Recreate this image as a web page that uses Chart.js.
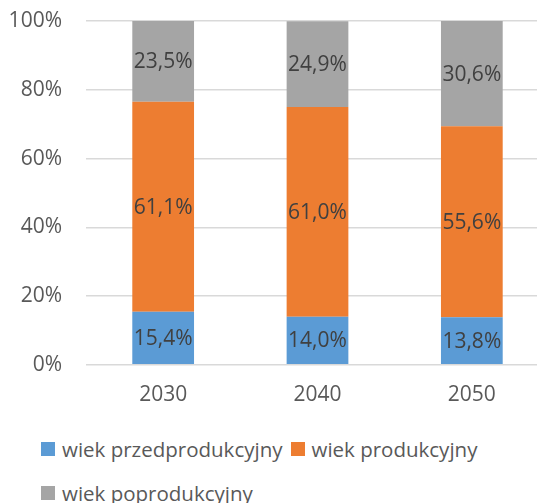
<!DOCTYPE html>
<html>
<head>
<meta charset="utf-8">
<script src="https://cdn.jsdelivr.net/npm/chart.js@4/dist/chart.umd.min.js"></script>
<style>
  html, body { margin: 0; padding: 0; background: #fff; overflow: hidden; }
  #wrap { position: relative; width: 549px; height: 503px; }
  #chart { position: absolute; left: 0; top: 0; }
  #legend {
    position: absolute; left: 41px; top: 427px; width: 480px;
    display: flex; flex-wrap: wrap;
    font-family: "Open Sans", sans-serif; font-size: 20.5px; color: #595959;
  }
  .item { display: flex; align-items: center; height: 44px; margin-right: 8px; white-space: nowrap; }
  .box { width: 14px; height: 14px; margin-right: 7px; }
</style>
</head>
<body>
<div id="wrap">
  <canvas id="chart" width="549" height="418"></canvas>
  <div id="legend"></div>
</div>
<script>
const lata = ["2030", "2040", "2050"];

const przedprodukcyjny = [15.4, 14.0, 13.8];
const produkcyjny = [61.1, 61.0, 55.6];
const poprodukcyjny = [23.5, 24.9, 30.6];

const yTicks = [0, 20, 40, 60, 80, 100];

const serie = [
  { label: "wiek przedprodukcyjny", data: przedprodukcyjny, color: "#5B9BD5" },
  { label: "wiek produkcyjny", data: produkcyjny, color: "#ED7D31" },
  { label: "wiek poprodukcyjny", data: poprodukcyjny, color: "#A5A5A5" }
];

const font = "'Open Sans', sans-serif";

// etykiety wartości na środku każdego segmentu
const etykiety = {
  id: 'etykiety',
  afterDatasetsDraw(chart) {
    const ctx = chart.ctx;
    ctx.save();
    ctx.font = "21px " + font;
    ctx.fillStyle = "#404040";
    ctx.textAlign = "center";
    ctx.textBaseline = "middle";
    chart.data.datasets.forEach((ds, i) => {
      chart.getDatasetMeta(i).data.forEach((bar, j) => {
        const txt = ds.data[j].toFixed(1).replace('.', ',') + '%';
        ctx.fillText(txt, bar.x, (bar.y + bar.base) / 2 + 1);
      });
    });
    ctx.restore();
  }
};

new Chart(document.getElementById('chart'), {
  type: 'bar',
  data: {
    labels: lata,
    datasets: serie.map(s => ({
      label: s.label,
      data: s.data,
      backgroundColor: s.color,
      barPercentage: 0.4,
      categoryPercentage: 1
    }))
  },
  options: {
    responsive: false,
    animation: false,
    layout: { padding: { top: 21, left: 0, right: 0, bottom: 0 } },
    plugins: { legend: { display: false }, tooltip: { enabled: false } },
    scales: {
      x: {
        stacked: true,
        grid: { display: false },
        border: { display: false },
        ticks: { color: "#595959", font: { family: font, size: 21 }, padding: 10 }
      },
      y: {
        stacked: true,
        min: 0,
        max: 100,
        afterFit(scale) {
          scale.width = 86;
          scale.paddingTop = 0;
          scale.paddingBottom = 0;
        },
        afterBuildTicks(scale) { scale.ticks = yTicks.map(v => ({ value: v })); },
        grid: { color: "#D9D9D9", lineWidth: 1.5, drawTicks: false },
        border: { display: false },
        ticks: {
          color: "#595959",
          font: { family: font, size: 21 },
          padding: 24,
          callback: v => v + '%'
        }
      }
    }
  },
  plugins: [etykiety]
});

// legenda
const legend = document.getElementById('legend');
serie.forEach(s => {
  const item = document.createElement('div');
  item.className = 'item';
  const box = document.createElement('span');
  box.className = 'box';
  box.style.background = s.color;
  const txt = document.createElement('span');
  txt.textContent = s.label;
  item.appendChild(box);
  item.appendChild(txt);
  legend.appendChild(item);
});
</script>
</body>
</html>
